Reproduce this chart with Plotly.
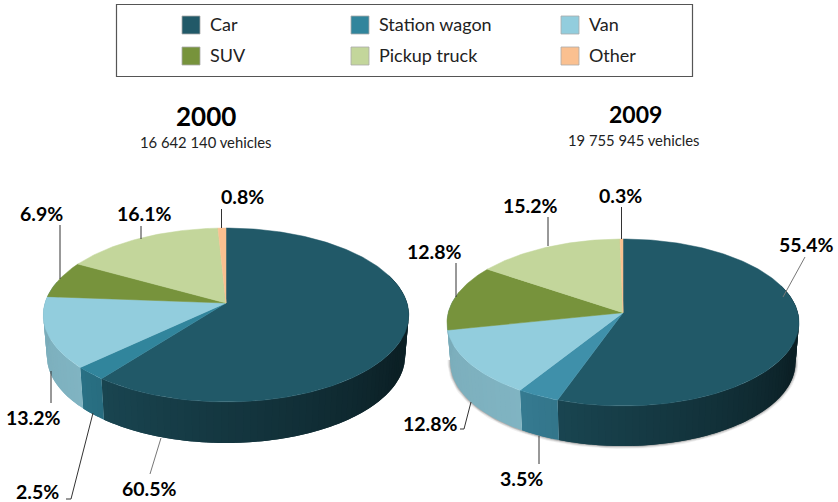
import numpy as np
import plotly.graph_objects as go

categories = ["Car", "Station wagon", "Van", "SUV", "Pickup truck", "Other"]
values_2000 = [60.5, 2.5, 13.2, 6.9, 16.1, 0.8]
values_2009 = [55.4, 3.5, 12.8, 12.8, 15.2, 0.3]
colors = ["#215968", "#31859C", "#92CDDD", "#77933C", "#C3D69B", "#FAC090"]
wedge_colors_2009 = ["#215968", "#3F90AA", "#92CDDD", "#77933C", "#C3D69B", "#FAC090"]
wall_shade = [(0.78, 0.40), (0.82, 0.85), (0.88, 0.83)]

FONT = "Lato"
W, H = 838, 502


def rgb(hexc, m=1.0):
    return "rgb(%d,%d,%d)" % tuple(int(int(hexc[i:i + 2], 16) * m) for i in (1, 3, 5))


def project(theta, g):
    u, v = np.sin(theta), np.cos(theta)
    w = 1 + g["k"] * v
    return g["cx"] + g["R"] * u / w, g["ay"] - g["A"] * v / w


def wall_mult(i, t):
    if i == 0:
        return float(np.interp(t, [0, 0.32, 1], [0.42, 0.36, 0.78]))
    a, b = wall_shade[i]
    return a + (b - a) * t


fig = go.Figure()


def add_pie(values, g, wedge_colors, shadow=False):
    edges = np.radians(np.concatenate([[0], np.cumsum(values)]) * 3.6)

    def bottom(theta):
        x, y = project(theta, g)
        return g["cx"] + (x - g["cx"]) * 0.98, y + g["d"]

    if shadow:
        th = np.radians(np.linspace(85, 265, 120))
        bx, by = bottom(th)
        for wd, op in [(6, 0.06), (4, 0.1), (2, 0.18)]:
            fig.add_trace(go.Scatter(x=bx, y=by, mode="lines", showlegend=False, hoverinfo="skip",
                                     line=dict(color=f"rgba(0,0,0,{op})", width=wd)))
    # side walls (each strip overlaps the next so no seams show)
    for i, c in enumerate(wedge_colors[:3]):
        a0 = max(edges[i], np.radians(70))
        a1 = np.radians(285) if i == 2 else edges[i + 1]
        n = max(2, int(np.degrees(a1 - a0) / 2))
        st = np.linspace(a0, a1, n + 1)
        for j in range(n):
            end = a1 if j == n - 1 else min(st[j + 1] + (st[1] - st[0]), a1)
            th = np.linspace(st[j], end, 4)
            xt, yt = project(th, g)
            xb, yb = bottom(th)
            col = rgb(c, wall_mult(i, (j + 0.5) / n))
            fig.add_trace(go.Scatter(x=np.r_[xt, xb[::-1]], y=np.r_[yt, yb[::-1]], fill="toself",
                                     mode="none", fillcolor=col, showlegend=False, hoverinfo="skip"))
    # top wedges
    for i, c in enumerate(wedge_colors):
        th = np.linspace(edges[i], edges[i + 1], max(3, int(np.degrees(edges[i + 1] - edges[i]))))
        x, y = project(th, g)
        fig.add_trace(go.Scatter(x=np.r_[g["cx"], x, g["cx"]], y=np.r_[g["ay"], y, g["ay"]], fill="toself",
                                 mode="lines", fillcolor=c, line=dict(color=c, width=0.5),
                                 name=categories[i], showlegend=False, hoverinfo="name"))


add_pie(values_2000, dict(cx=226, ay=303, R=181, A=85.3, k=0.138, d=41), colors)
add_pie(values_2009, dict(cx=623, ay=312.7, R=174.8, A=82.35, k=0.1174, d=40), wedge_colors_2009, shadow=True)

shapes = [dict(type="rect", x0=116.5, y0=4.5, x1=692.5, y1=76.5, line=dict(color="#555555", width=1.2),
               fillcolor="white", layer="below")]
annots = []


def text(x, y, s, size, bold=False, anchor="center", color="#111111"):
    annots.append(dict(x=x, y=y, text=f"<b>{s}</b>" if bold else s, showarrow=False, xanchor=anchor,
                       yanchor="middle", font=dict(family=FONT, size=size, color=color)))


leg_x = [(182, 208), (351, 377), (561, 587)]
leg_y = [25, 56]
for i, cat in enumerate(categories):
    sx, tx = leg_x[i % 3]
    yy = leg_y[i // 3]
    shapes.append(dict(type="rect", x0=sx, x1=sx + 18, y0=yy - 9, y1=yy + 9, fillcolor=colors[i],
                       line=dict(color="#aaaaaa", width=0.8)))
    text(tx, yy - 1, cat, 18, anchor="left", color="#222222")

text(206, 116, "2000", 26, bold=True, color="#000000")
text(206, 142, "16 642 140 vehicles", 14.8, color="#222222")
text(635, 114, "2009", 23, bold=True, color="#000000")
text(634, 140, "19 755 945 vehicles", 14.8, color="#222222")

labels = [
    (242, 196, values_2000[5]), (144, 213, values_2000[4]), (41, 213, values_2000[3]),
    (33, 417, values_2000[2]), (37, 491, values_2000[1]), (149, 488, values_2000[0]),
    (620, 195, values_2009[5]), (530, 205, values_2009[4]), (434, 251, values_2009[3]),
    (430, 423, values_2009[2]), (521, 478, values_2009[1]), (806, 244, values_2009[0]),
]
for x, y, v in labels:
    text(x, y, f"{v:.1f}%", 19.5, bold=True, color="#000000")

leaders = [
    ([221.5, 221.5], [209, 228], "#333"), ([141, 141], [226, 239], "#333"), ([60, 60], [225, 279], "#333"),
    ([51, 51], [371, 403], "#333"), ([93, 71, 66], [413, 499, 499], "#333"), ([161, 150], [438, 474], "#777"),
    ([621.5, 621.5], [207, 239], "#333"), ([548, 548], [217, 246], "#333"), ([456, 456], [263, 297], "#333"),
    ([805, 783], [257, 297], "#777"), ([471, 464, 460], [402, 429, 429], "#333"), ([539, 539], [436, 464], "#333"),
]
for xs, ys, c in leaders:
    fig.add_trace(go.Scatter(x=xs, y=ys, mode="lines", line=dict(color=c, width=1), showlegend=False,
                             hoverinfo="skip"))

fig.update_layout(width=W, height=H, margin=dict(l=0, r=0, t=0, b=0), paper_bgcolor="white", plot_bgcolor="white",
                  xaxis=dict(range=[0, W], visible=False, fixedrange=True),
                  yaxis=dict(range=[H, 0], visible=False, fixedrange=True),
                  shapes=shapes, annotations=annots, showlegend=False)
fig.write_html("out.html", config=dict(displayModeBar=False),
               post_script="document.body.style.margin='0';document.body.style.overflow='hidden';")
